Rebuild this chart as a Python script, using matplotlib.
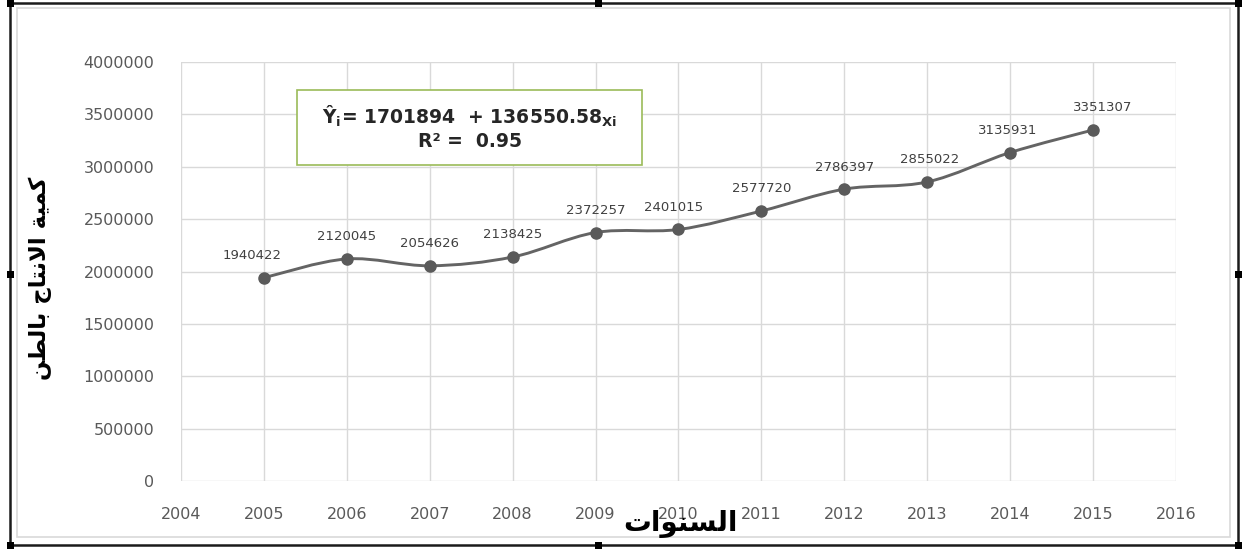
import matplotlib
matplotlib.use("Agg")
import matplotlib.pyplot as plt
from matplotlib.path import Path
from matplotlib.patches import PathPatch, Rectangle

plt.rcParams["font.family"] = ["DejaVu Sans"]

# ---------------- data ----------------
years = [2005, 2006, 2007, 2008, 2009, 2010, 2011, 2012, 2013, 2014, 2015]
production = [1940422, 2120045, 2054626, 2138425, 2372257, 2401015,
              2577720, 2786397, 2855022, 3135931, 3351307]
x_ticks = list(range(2004, 2017))
y_ticks = list(range(0, 4000001, 500000))

# Arabic text in shaped presentation forms, visual (left-to-right) order
y_title_logical = ("\uFEDB\uFEE4\uFEF4\uFE94 "
                   "\uFE8D\uFEFB\uFEE7\uFE98\uFE8E\uFE9D "
                   "\uFE91\uFE8E\uFEDF\uFEC4\uFEE6")   # كمية الانتاج بالطن
x_title_logical = "\uFE8D\uFEDF\uFEB4\uFEE8\uFEEE\uFE8D\uFE95"  # السنوات
y_title = y_title_logical[::-1]
x_title = x_title_logical[::-1]

eq_line1 = "Ŷ$_\\mathregular{i}$= 1701894  + 136550.58$_\\mathregular{Xi}$"
eq_line2 = "R² =  0.95"

# label horizontal nudges (pixels), as in reference
label_dx = [-12, 0, 0, 0, 0, -5, 0, 0, 2, -2, 10]

W, H = 1243, 549
fig = plt.figure(figsize=(W / 100, H / 100), dpi=100)
fig.patch.set_facecolor("white")

def fx(px):
    return px / W

def fy(py):
    return 1 - py / H

ax = fig.add_axes([fx(181), fy(481), fx(1176) - fx(181), fy(62) - fy(481)])
ax.set_xlim(2004, 2016)
ax.set_ylim(0, 4000000)
ax.set_xticks(x_ticks)
ax.set_yticks(y_ticks)
ax.set_xticklabels([str(v) for v in x_ticks])
ax.set_yticklabels([str(v) for v in y_ticks])
for s in ax.spines.values():
    s.set_visible(False)
ax.grid(True, color="#d9d9d9", linewidth=1.0)
ax.set_axisbelow(True)
ax.tick_params(axis="both", length=0, labelsize=11.5, labelcolor="#595959")
ax.tick_params(axis="x", pad=19)
ax.tick_params(axis="y", pad=19)

# smoothed line (Catmull-Rom style Bezier through the data points)
pts = list(zip(years, production))
verts = [pts[0]]
codes = [Path.MOVETO]
n = len(pts)
for i in range(n - 1):
    p0 = pts[i - 1] if i > 0 else pts[i]
    p1 = pts[i]
    p2 = pts[i + 1]
    p3 = pts[i + 2] if i + 2 < n else pts[i + 1]
    c1 = (p1[0] + (p2[0] - p0[0]) / 6, p1[1] + (p2[1] - p0[1]) / 6)
    c2 = (p2[0] - (p3[0] - p1[0]) / 6, p2[1] - (p3[1] - p1[1]) / 6)
    verts += [c1, c2, p2]
    codes += [Path.CURVE4] * 3
ax.add_patch(PathPatch(Path(verts, codes), facecolor="none",
                       edgecolor="#646464", linewidth=2.1, zorder=3))
ax.plot(years, production, linestyle="none", marker="o", markersize=8,
        color="#5a5a5a", zorder=4)

for xv, yv, dx in zip(years, production, label_dx):
    ax.annotate(str(yv), (xv, yv), xytext=(dx, 22), textcoords="offset pixels",
                ha="center", va="center", fontsize=9.5, color="#404040",
                zorder=5)

# equation box
fig.patches.append(Rectangle((fx(297), fy(165)), fx(642) - fx(297), fy(90) - fy(165),
                             transform=fig.transFigure, facecolor="white",
                             edgecolor="#9bbb59", linewidth=1.2, zorder=5))
fig.text(fx(470), fy(116), eq_line1, ha="center", va="center", fontsize=13.5,
         fontweight="bold", color="#262626", zorder=6)
fig.text(fx(470), fy(141), eq_line2, ha="center", va="center", fontsize=13.5,
         fontweight="bold", color="#262626", zorder=6)

# axis titles
fig.text(fx(40), fy(278), y_title, rotation=90, ha="center", va="center",
         fontsize=16.5, fontweight="bold", color="black")
fig.text(fx(680), fy(524), x_title, ha="center", va="center",
         fontsize=20, fontweight="bold", color="black")

# outer frames and selection handles
fig.patches.append(Rectangle((fx(17), fy(537)), fx(1230) - fx(17), fy(8) - fy(537),
                             transform=fig.transFigure, facecolor="none",
                             edgecolor="#d9d9d9", linewidth=1.2))
fig.patches.append(Rectangle((fx(10), fy(545)), fx(1238) - fx(10), fy(3) - fy(545),
                             transform=fig.transFigure, facecolor="none",
                             edgecolor="#1a1a1a", linewidth=1.8))
hs = 7
for hx in (10, 598, 1238):
    for hy in (3, 274, 545):
        if hx == 598 and hy == 274:
            continue
        fig.patches.append(Rectangle((fx(hx - hs / 2), fy(hy + hs / 2)), hs / W, hs / H,
                                     transform=fig.transFigure, facecolor="black",
                                     edgecolor="none"))

fig.savefig("out.png", dpi=100)
